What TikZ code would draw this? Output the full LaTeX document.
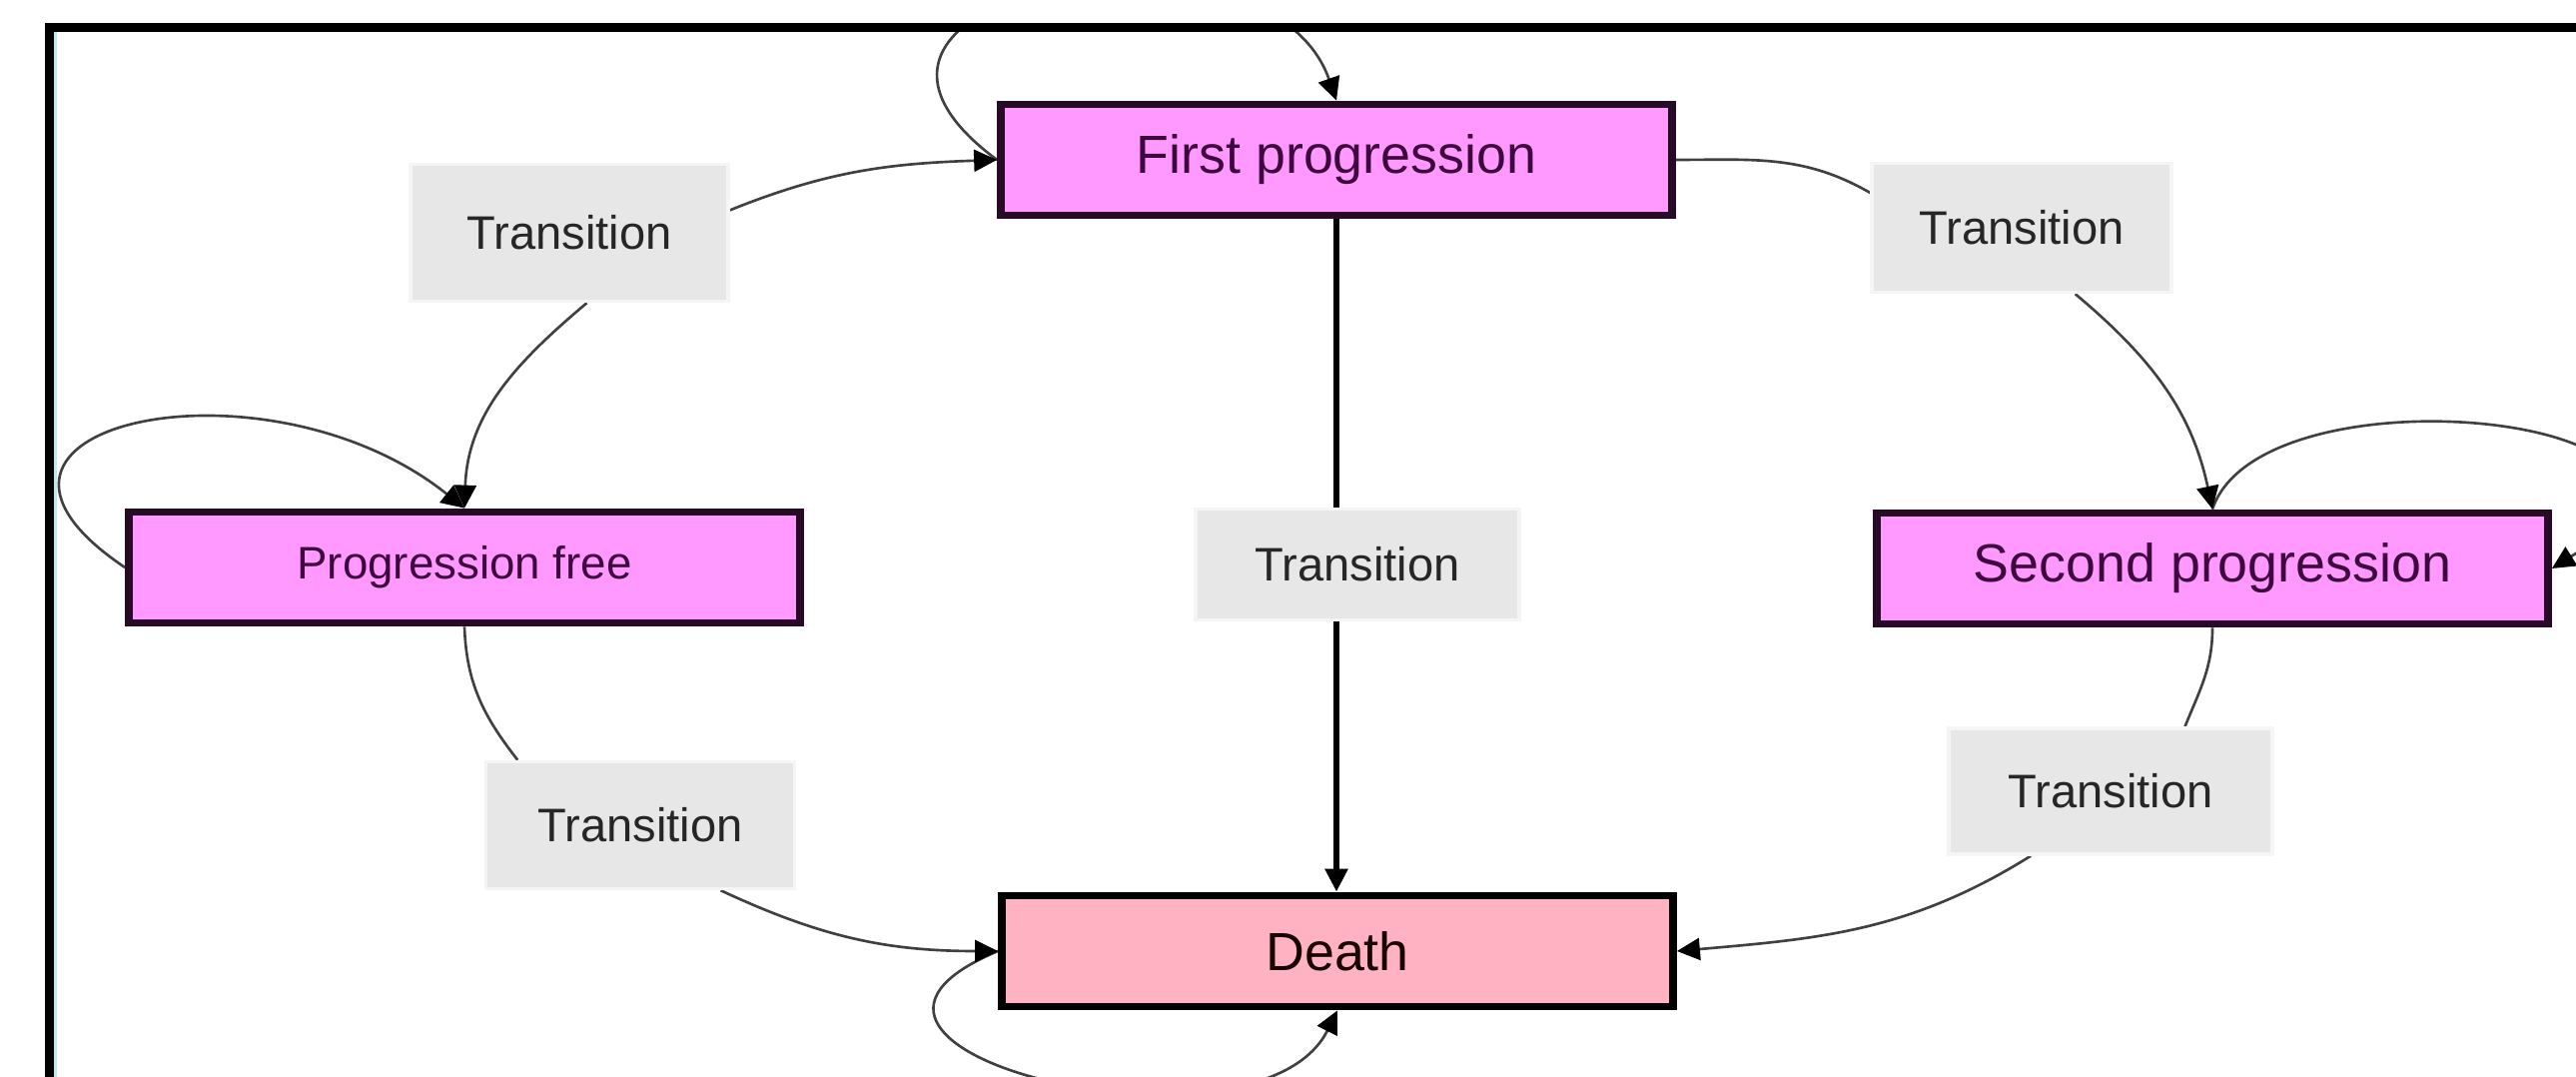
\documentclass[tikz,border=0pt]{standalone}
\usepackage{fontspec}
\setmainfont{Liberation Sans}
\usetikzlibrary{arrows.meta,backgrounds}
\definecolor{stpink}{RGB}{255,153,255}
\definecolor{stdeath}{RGB}{255,178,193}
\definecolor{stborder}{RGB}{38,10,38}
\definecolor{sttext}{RGB}{62,8,62}
\definecolor{trfill}{RGB}{231,231,231}
\definecolor{frameblue}{RGB}{200,228,242}
\begin{document}
\begin{tikzpicture}[
    state/.style={draw=stborder, line width=2.2pt, fill=stpink, text=sttext,
        minimum width=6.72cm, minimum height=1.11cm, font=\fontsize{15.3}{18}\selectfont},
    trans/.style={fill=trfill, draw=black!4, line width=1pt, text=black!85,
        minimum width=3.1cm, minimum height=1.25cm, font=\fontsize{13.4}{16}\selectfont},
    link/.style={draw=black!75, line width=0.75pt, -{Triangle[length=0.23cm,width=0.22cm,color=black]}},
    plain/.style={draw=black!75, line width=0.75pt}]
    \useasboundingbox (0,0) rectangle (25.79,10.77);
    % frame, cut at the right and bottom
    \draw[line width=0.09cm] (0.49,-1) rectangle (27,10.495);
    \draw[frameblue, line width=0.03cm] (0.55,-1) -- (0.55,10.45);
    % states
    \node[state] (first) at (13.38,9.17) {First progression};
    \node[state, font=\fontsize{13}{16}\selectfont] (pfree) at (4.65,5.09) {Progression free};
    \node[state] (second) at (22.15,5.08) {Second progression};
    \node[state, fill=stdeath, draw=black, text=black!90!red] (death) at (13.39,1.25) {Death};
    % transition labels
    \node[trans, minimum width=3.18cm, minimum height=1.37cm] (tl) at (5.70,8.44) {Transition};
    \node[trans, minimum width=3.0cm, minimum height=1.29cm] (tr) at (20.24,8.49) {Transition};
    \node[trans, minimum width=3.24cm, minimum height=1.11cm] (mid) at (13.59,5.12) {Transition};
    \node[trans, minimum width=3.09cm, minimum height=1.27cm] (bl) at (6.41,2.51) {Transition};
    \node[trans, minimum width=3.24cm, minimum height=1.26cm] (br) at (21.13,2.85) {Transition};
    \begin{pgfonlayer}{background}
    \begin{scope}
        \clip (0.53,-1) rectangle (27,10.45);
        % self loops
        \draw[link] (pfree.west) .. controls +(-2.13,1.43) and +(-2.0,1.6) .. (pfree.north);
        \draw[link] (first.west) .. controls +(-2.3,1.7) and +(-0.7,2.0) .. (first.north);
        \draw[link] (second.north) .. controls +(0.5,1.5) and +(2.4,1.5) .. (second.east);
        \draw[link] (death.west) .. controls +(-2.4,-1.0) and +(-0.8,-1.6) .. (death.south);
        % left
        \draw[link] (tl.8) to[out=22, in=182] (first.west);
        \draw[link] (tl.-76) to[out=-140, in=88] (pfree.north);
        \draw[plain] (pfree.south) to[out=-88, in=128] (bl.152);
        \draw[link] (bl.-39) to[out=-25, in=180] (death.west);
        % right
        \draw[plain] (first.east) to[out=0, in=150] (tr.167);
        \draw[link] (tr.-51) to[out=-40, in=102] (second.north);
        \draw[plain] (second.south) to[out=-90, in=68] (br.41);
        \draw[link] (br.-141) to[out=-148, in=5] (death.east);
        % middle
        \draw[link, draw=black, line width=1.6pt] (first.south) -- (first.south |- death.north);
    \end{scope}
    \end{pgfonlayer}
\end{tikzpicture}
\end{document}
